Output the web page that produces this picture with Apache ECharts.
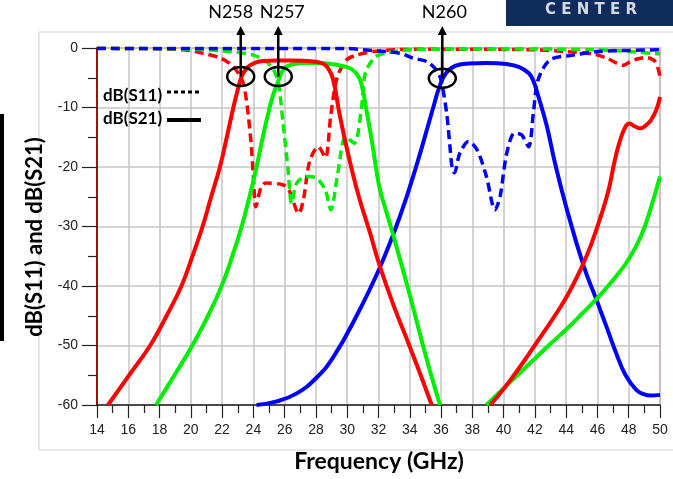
<!DOCTYPE html>
<html><head><meta charset="utf-8">
<script src="https://cdn.jsdelivr.net/npm/echarts@6/dist/echarts.min.js"></script>
<style>html,body{margin:0;padding:0;background:#fff}#c{width:673px;height:479px}</style>
</head><body><div id="c"></div>
<script>
// ---- data (GHz, dB) ----
const xTickMin = 14, xTickMax = 50, xTickStep = 2;
const yTickMin = -60, yTickMax = 0, yTickStep = 10;

const redS21FreqA = [14.7, 16.05, 17.4, 18.45, 19.4, 20.1, 20.75, 21.3, 21.86, 22.3, 22.72, 23.0, 23.25, 23.6, 24.0, 24.6, 25.5, 26.5, 27.5, 28.0, 28.5, 28.8, 29.1, 29.5, 29.9, 30.3, 30.8, 31.45, 32.1, 33.0, 34.0, 34.7, 35.4];
const redS21DbA   = [-60, -55, -50, -45, -40, -35, -30, -25, -20, -15, -10, -7, -4.8, -3.3, -2.6, -2.2, -2.1, -2.1, -2.2, -2.3, -2.7, -3.5, -5.3, -11, -16, -20.5, -25.5, -31, -36.8, -43.5, -50.2, -55, -60];
const redS21FreqB = [39.15, 40.0, 40.8, 41.6, 42.5, 43.4, 44.2, 45.0, 45.6, 46.2, 46.7, 47.1, 47.45, 47.8, 48.05, 48.4, 48.75, 49.1, 49.4, 49.75, 50];
const redS21DbB   = [-60, -57.3, -54.5, -51.5, -48, -44.5, -41, -36.8, -33, -28.4, -24, -19, -15.5, -13.2, -12.7, -13.2, -13.5, -13.0, -12.2, -10.5, -8.2];

const greenS21FreqA = [17.77, 18.95, 20.1, 21.1, 21.97, 22.65, 23.25, 23.75, 24.2, 24.6, 24.9, 25.25, 25.6, 25.95, 26.4, 27.2, 28.0, 29.0, 29.8, 30.3, 30.7, 30.95, 31.2, 31.6, 32.05, 32.5, 33.0, 34.0, 35.0, 35.93];
const greenS21DbA   = [-60, -55, -50, -45, -40, -35, -30, -25, -20, -15, -11.5, -8, -5.5, -3.5, -2.8, -2.5, -2.5, -2.7, -3.1, -3.6, -4.7, -6.5, -10, -16, -23.3, -27.5, -32, -41.5, -51.5, -60];
const greenS21FreqB = [38.9, 40.0, 41.0, 42.0, 43.0, 44.0, 45.0, 46.0, 47.0, 48.0, 48.8, 49.4, 50];
const greenS21DbB   = [-60, -57.2, -54.7, -52.2, -49.7, -47.3, -44.7, -42, -39, -35.5, -31.5, -27, -21.6];

const blueS21Freq = [24.2, 25.5, 26.8, 28.0, 29.1, 30.6, 32.1, 33.37, 34.4, 35.5, 35.9, 36.3, 36.9, 37.8, 38.9, 40.2, 41.0, 41.6, 41.9, 42.15, 42.75, 43.3, 44.0, 45.1, 45.95, 46.6, 47.2, 47.8, 48.5, 49.0, 49.4, 50];
const blueS21Db   = [-60, -59.4, -58, -55.5, -52, -45, -36.8, -28.3, -20, -10, -6.5, -4.3, -3, -2.6, -2.5, -2.7, -3.2, -4.2, -5.5, -7.5, -13, -19.5, -26.7, -36.5, -42.4, -47, -51.3, -55, -57.5, -58.2, -58.4, -58.3];

const redS11Freq = [14, 17, 19.5, 20.8, 21.9, 22.7, 23.35, 23.8, 24.0, 24.15, 24.5, 24.8, 25.9, 26.3, 26.9, 27.2, 27.6, 28.15, 28.6, 28.95, 29.35, 29.96, 30.6, 31.67, 33, 36, 42, 44, 45.7, 46.6, 47.65, 48.1, 48.6, 49.1, 49.7, 50];
const redS11Db   = [-0.05, -0.1, -0.3, -0.9, -1.7, -3.1, -5.9, -14.5, -21.6, -26.7, -23.3, -22.7, -23, -24, -27.8, -25.5, -19, -16.6, -18.4, -11.3, -5, -2, -1.2, -0.6, -0.3, -0.2, -0.3, -0.6, -1.0, -1.7, -2.9, -2.3, -1.8, -1.6, -2.3, -4.8];

const greenS11Freq = [14, 20, 22.5, 24.0, 24.8, 25.3, 25.6, 25.9, 26.2, 26.45, 26.77, 27.4, 28.0, 28.6, 28.95, 29.4, 29.9, 30.45, 30.9, 31.15, 31.8, 32.6, 34, 40, 46, 48, 50];
const greenS11Db   = [-0.05, -0.2, -0.6, -1.2, -2.2, -3.7, -5.9, -12.7, -20, -26.1, -22.7, -21.6, -21.8, -23.9, -27.2, -21, -14.9, -16, -10.4, -4.3, -1.5, -0.8, -0.3, -0.15, -0.3, -0.6, -1.0];

const blueS11Freq = [14, 30, 31, 33.4, 34.2, 35.1, 35.7, 36.0, 36.36, 36.57, 36.7, 36.85, 37.2, 37.75, 38.3, 38.9, 39.45, 39.77, 40.2, 40.7, 41.15, 41.6, 41.9, 42.2, 42.96, 44.45, 46, 48, 50];
const blueS11Db   = [-0.1, -0.1, -0.3, -0.9, -1.7, -2.3, -3.7, -5.4, -11, -16.6, -20, -21, -17.7, -15.7, -17.1, -21.6, -27.2, -25, -17.7, -14.3, -14.6, -16.6, -11, -5.4, -2, -1.2, -0.6, -0.4, -0.3];

const bandLabels = ['N258', 'N257', 'N260'];
const markerFreq = [23.19, 25.59, 36.08];
const markerDb   = [-4.8, -4.8, -5.1];

const legendLabels = ['dB(S11)', 'dB(S21)'];
const xTitle = 'Frequency (GHz)';
const yTitle = 'dB(S11) and dB(S21)';

// ---- build ----
const pairs = (f, d) => f.map((v, i) => [v, d[i]]);
const RED = '#ff0000', GREEN = '#00ee00', BLUE = '#0000ff';

function solid(name, color, f, d) {
  return { name, type: 'line', data: pairs(f, d), showSymbol: false, smooth: 0.45,
    clip: true, lineStyle: { color, width: 4 }, itemStyle: { color }, z: 3 };
}
function dashed(name, color, f, d) {
  return { name, type: 'line', data: pairs(f, d), showSymbol: false, smooth: 0.3,
    clip: true, lineStyle: { color, width: 3.5, type: [9, 5] }, itemStyle: { color }, z: 2 };
}

const chart = echarts.init(document.getElementById('c'), null, { renderer: 'canvas' });
const gridLine = { show: true, lineStyle: { color: '#c6c6c6', width: 1.5 } };

chart.setOption({
  animation: false,
  backgroundColor: '#fff',
  grid: { left: 97, right: 13, top: 48, bottom: 74, show: true, backgroundColor: '#fff', borderColor: '#ff7a7a', borderWidth: 1.5 },
  xAxis: {
    type: 'value', min: xTickMin, max: xTickMax, interval: xTickStep,
    axisLine: { show: true, onZero: false, lineStyle: { color: '#222', width: 1.5 } },
    axisTick: { show: true, length: 13, lineStyle: { color: '#222', width: 1.2 } },
    minorTick: { show: true, splitNumber: 2, length: 8, lineStyle: { color: '#222', width: 1.2 } },
    splitLine: gridLine,
    axisLabel: { fontFamily: 'Liberation Sans', fontSize: 14, color: '#222', margin: 18 }
  },
  yAxis: {
    type: 'value', min: yTickMin, max: yTickMax, interval: yTickStep,
    axisLine: { show: true, onZero: false, lineStyle: { color: '#a01010', width: 2 } },
    axisTick: { show: true, length: 15, lineStyle: { color: '#222', width: 1.2 } },
    minorTick: { show: true, splitNumber: 2, length: 9, lineStyle: { color: '#222', width: 1.2 } },
    splitLine: gridLine,
    axisLabel: { fontFamily: 'Liberation Sans', fontSize: 14, color: '#222', margin: 19 }
  },
  series: [
    dashed('red S11', RED, redS11Freq, redS11Db),
    dashed('green S11', GREEN, greenS11Freq, greenS11Db),
    dashed('blue S11', BLUE, blueS11Freq, blueS11Db),
    solid('blue S21', BLUE, blueS21Freq, blueS21Db),
    solid('green S21 a', GREEN, greenS21FreqA, greenS21DbA),
    solid('green S21 b', GREEN, greenS21FreqB, greenS21DbB),
    solid('red S21 a', RED, redS21FreqA, redS21DbA),
    solid('red S21 b', RED, redS21FreqB, redS21DbB)
  ]
});

// ---- annotations ----
const labelOffset = [-10, 4, 2];
const els = [
  { type: 'rect', shape: { x: 39, y: 32, width: 660, height: 418 }, style: { fill: 'none', stroke: '#d6d6d6', lineWidth: 1.2 }, z: -10 },
  { type: 'rect', shape: { x: 0, y: 114, width: 4, height: 227 }, style: { fill: '#000' } },
  { type: 'rect', shape: { x: 506, y: 0, width: 170, height: 26 }, style: { fill: '#0f2c5c' } },
  { type: 'text', x: 591, y: 10, style: { text: 'C E N T E R', font: 'bold 15px "DejaVu Sans"', fill: '#d5dbe4', textAlign: 'center', textVerticalAlign: 'middle' } },
  { type: 'text', x: 379, y: 462, style: { text: xTitle, font: 'bold 23px Lato', fill: '#000', textAlign: 'center', textVerticalAlign: 'middle' } },
  { type: 'text', x: 35, y: 237, rotation: Math.PI / 2, style: { text: yTitle, font: 'bold 22px Lato', fill: '#000', textAlign: 'center', textVerticalAlign: 'middle' } },
  { type: 'text', x: 103, y: 96, style: { text: legendLabels[0], font: 'bold 17px Lato', fill: '#000', textAlign: 'left', textVerticalAlign: 'middle' } },
  { type: 'line', shape: { x1: 167, y1: 92, x2: 201, y2: 92 }, style: { stroke: '#000', lineWidth: 3, lineDash: [4, 3] } },
  { type: 'text', x: 103, y: 119, style: { text: legendLabels[1], font: 'bold 17px Lato', fill: '#000', textAlign: 'left', textVerticalAlign: 'middle' } },
  { type: 'line', shape: { x1: 167, y1: 120, x2: 201, y2: 120 }, style: { stroke: '#000', lineWidth: 4 } }
];
markerFreq.forEach((f, i) => {
  const p = chart.convertToPixel({ gridIndex: 0 }, [f, markerDb[i]]);
  els.push({ type: 'ellipse', shape: { cx: p[0], cy: p[1], rx: 13.5, ry: 9.5 }, style: { fill: 'none', stroke: '#000', lineWidth: 2.5 }, z: 20 });
  els.push({ type: 'line', shape: { x1: p[0], y1: p[1], x2: p[0], y2: 33 }, style: { stroke: '#000', lineWidth: 2.5 }, z: 20 });
  els.push({ type: 'polygon', shape: { points: [[p[0], 26], [p[0] - 4.5, 35], [p[0] + 4.5, 35]] }, style: { fill: '#000' }, z: 20 });
  els.push({ type: 'text', x: p[0] + labelOffset[i], y: 12, style: { text: bandLabels[i], font: '18px Lato', fill: '#000', textAlign: 'center', textVerticalAlign: 'middle' }, z: 20 });
});
chart.setOption({ graphic: { elements: els } });
</script>
</body></html>
